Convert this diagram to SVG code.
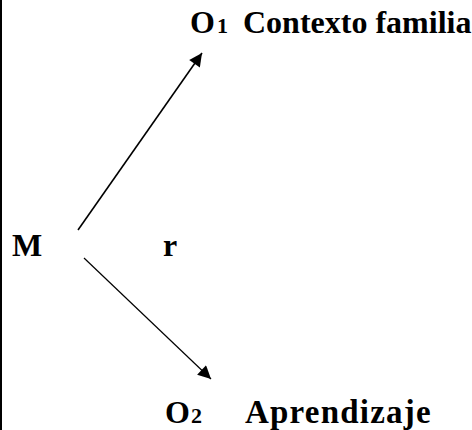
<svg xmlns="http://www.w3.org/2000/svg" width="472" height="430" viewBox="0 0 472 430">
<style>
text{font-family:"Liberation Serif","Times New Roman",serif;font-weight:bold;font-size:32px;fill:#000}
.sub{font-size:22px}
.edge{stroke:#000;fill:none}
</style>
<defs>
<marker id="ah" viewBox="0 0 10 10" refX="10" refY="5" markerWidth="22" markerHeight="13" markerUnits="userSpaceOnUse" orient="auto">
<path d="M0,0 L10,5 L0,10 z" fill="#000"/>
</marker>
</defs>
<rect width="472" height="430" fill="#fff"/>
<line x1="1" y1="0" x2="1" y2="430" stroke="#000" stroke-width="2"/>
<g id="connectors">
<line class="edge" stroke-width="1.6" x1="78" y1="230" x2="202" y2="53" marker-end="url(#ah)"/>
<line class="edge" stroke-width="1.2" x1="84" y1="258" x2="211" y2="379" marker-end="url(#ah)"/>
</g>
<g id="M"><text x="12" y="256">M</text></g>
<g id="r"><text x="163" y="256">r</text></g>
<g id="O1"><text x="190" y="33">O<tspan class="sub" dx="2">1</tspan><tspan x="243">Contexto familia</tspan></text></g>
<g id="O2"><text x="165" y="423">O<tspan class="sub" dx="1">2</tspan><tspan x="245" style="font-size:33px" letter-spacing="1.2">Aprendizaje</tspan></text></g>
</svg>
